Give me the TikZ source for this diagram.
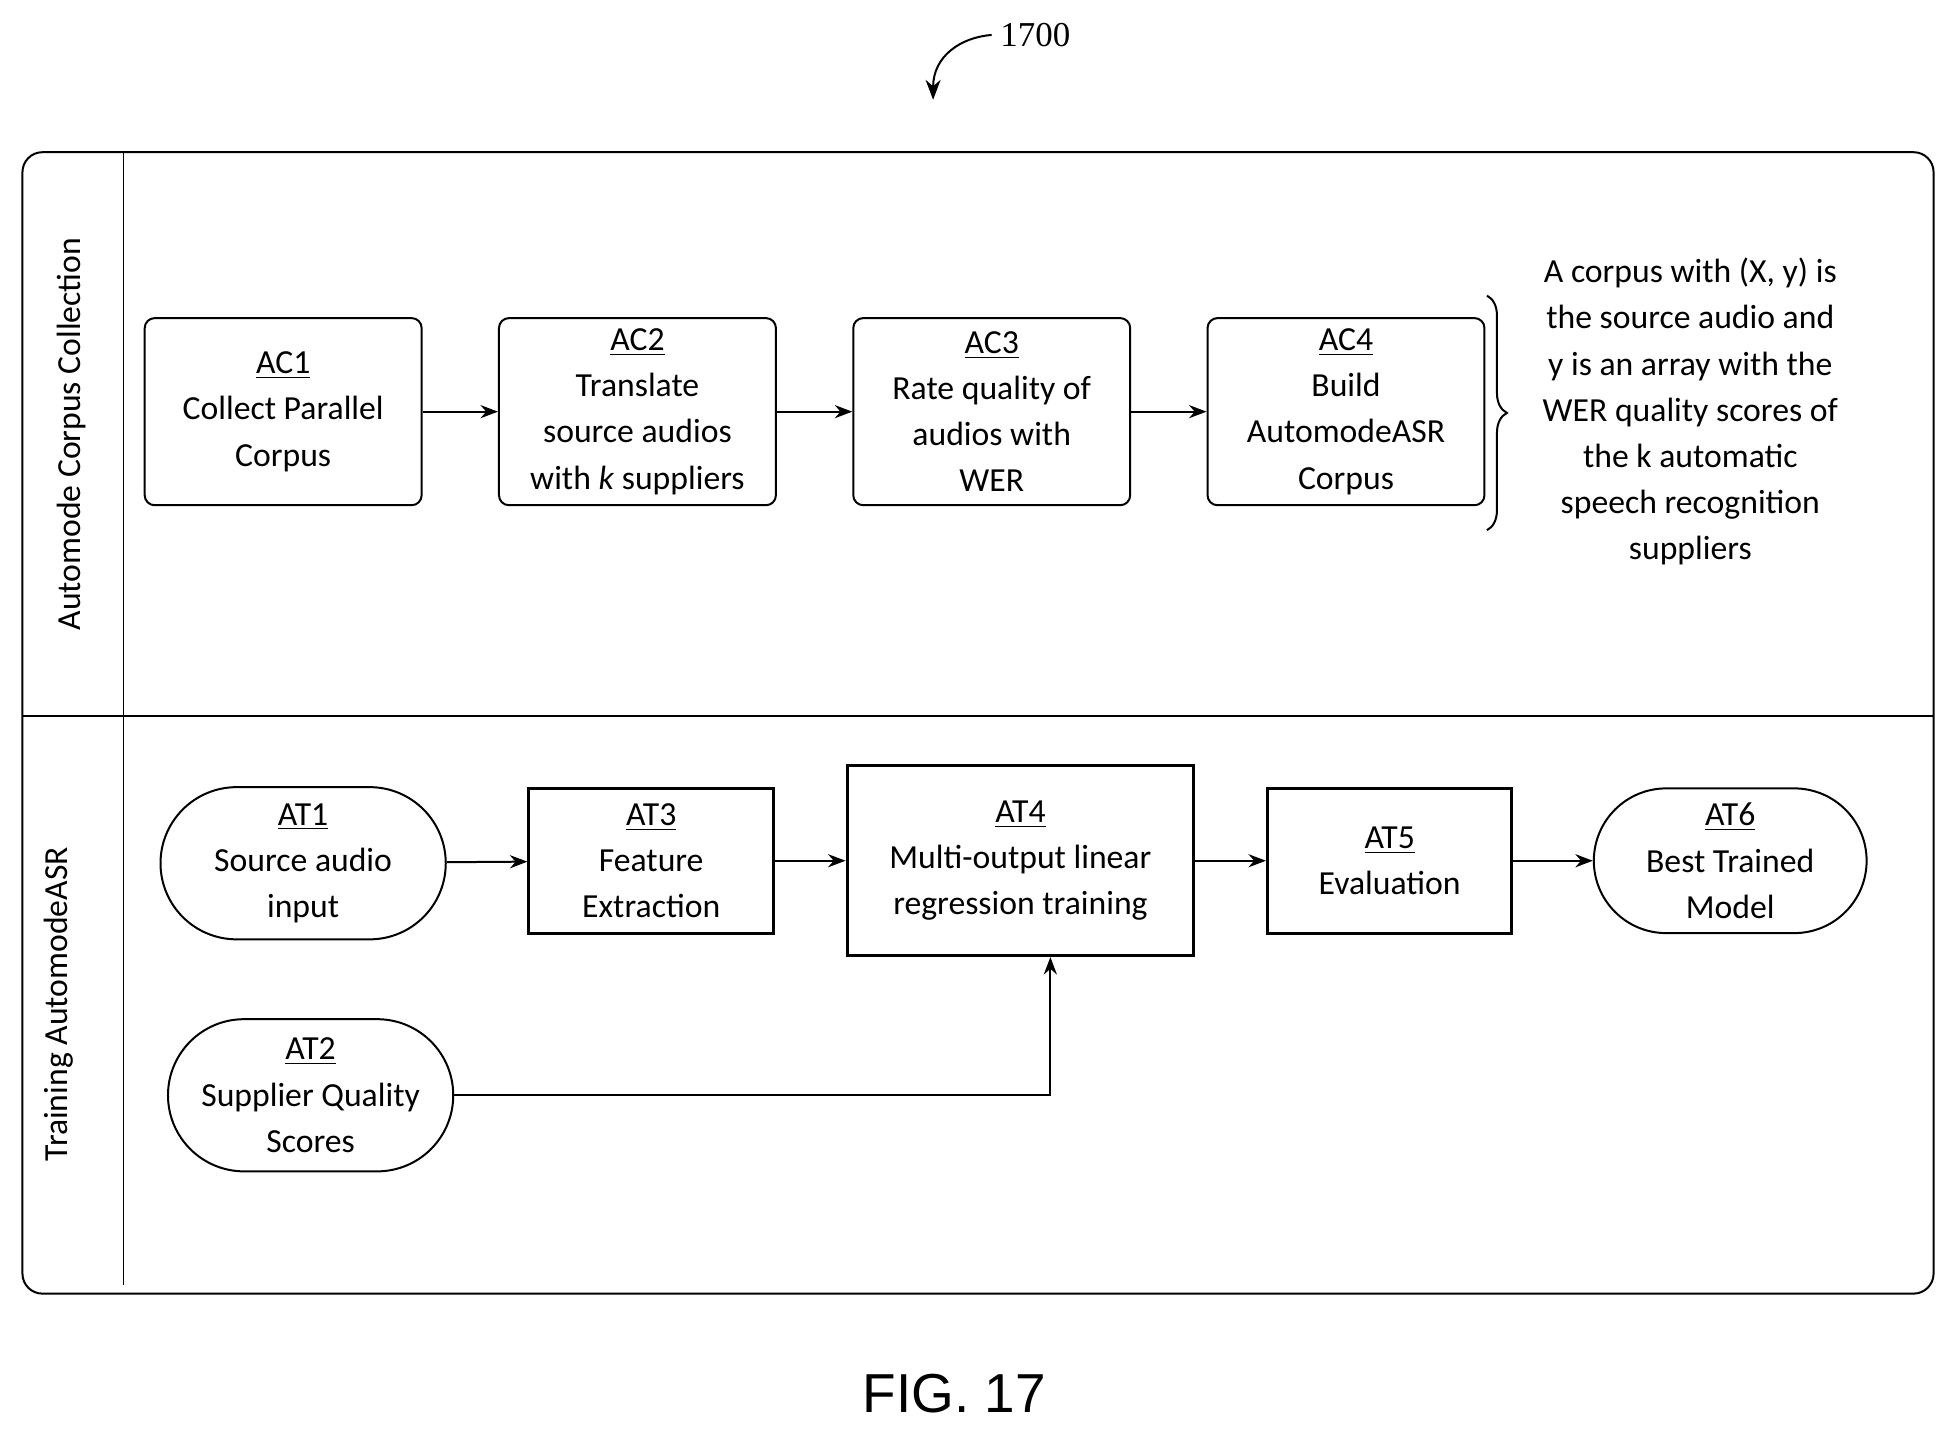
\documentclass[tikz,border=0pt]{standalone}
\usepackage{fontspec}
\setmainfont{Carlito}
\newfontfamily\arialf{Liberation Sans}
\newfontfamily\timesf{Liberation Serif}
\usetikzlibrary{arrows.meta,decorations.pathreplacing,shapes.misc}
\begin{document}
\begin{tikzpicture}[x=0.5pt,y=-0.5pt,
  every node/.style={font=\fontsize{13.5}{18.5}\selectfont},
  box/.style={draw,thick,rounded corners=4pt,align=center},
  sbox/.style={draw,line width=1.2pt,align=center},
  pill/.style={draw,thick,rounded rectangle,align=center},
  arr/.style={-{Stealth[length=7pt]},thick}]
\useasboundingbox (0,0) rectangle (1568,1151);
\draw[thick,rounded corners=8pt] (18,122) rectangle (1550,1037);
\draw[thick] (99,122) -- (99,1030);
\draw[thick] (18,574) -- (1550,574);
\node[rotate=90] (lane1) at (57,348) {Automode Corpus Collection};
\node[rotate=90] (lane2) at (47,805) {Training AutomodeASR};
\node[box,minimum width=111pt,minimum height=75pt] (ac1) at (227,330) {\underline{AC1}\\Collect Parallel\\Corpus};
\node[box,minimum width=111pt,minimum height=75pt] (ac2) at (511,330) {\underline{AC2}\\Translate\\source audios\\with \textit{k} suppliers};
\node[box,minimum width=111pt,minimum height=75pt] (ac3) at (795,330) {\underline{AC3}\\Rate quality of\\audios with\\WER};
\node[box,minimum width=111pt,minimum height=75pt] (ac4) at (1079,330) {\underline{AC4}\\Build\\AutomodeASR\\Corpus};
\draw[arr] (ac1) -- (ac2);
\draw[arr] (ac2) -- (ac3);
\draw[arr] (ac3) -- (ac4);
\coordinate (b1) at (1192,237); \coordinate (b2) at (1192,425);
\draw[thick,decorate,decoration={brace,amplitude=8pt}] (b1) -- (b2);
\node[align=center] (note) at (1355,330) {A corpus with (X, y) is\\the source audio and\\y is an array with the\\WER quality scores of\\the k automatic\\speech recognition\\suppliers};
\node[pill,minimum width=121pt,minimum height=61pt] (at1) at (243,692) {\underline{AT1}\\Source audio\\input};
\node[sbox,minimum width=98pt,minimum height=58pt] (at3) at (522,690) {\underline{AT3}\\Feature\\Extraction};
\node[sbox,minimum width=139pt,minimum height=76pt] (at4) at (818,690) {\underline{AT4}\\Multi-output linear\\regression training};
\node[sbox,minimum width=98pt,minimum height=58pt] (at5) at (1114,690) {\underline{AT5}\\Evaluation};
\node[pill,minimum width=116pt,minimum height=58pt] (at6) at (1387,690) {\underline{AT6}\\Best Trained\\Model};
\node[pill,minimum width=121pt,minimum height=61pt] (at2) at (249,878) {\underline{AT2}\\Supplier Quality\\Scores};
\draw[arr] (at1) -- (at3);
\draw[arr] (at3) -- (at4);
\draw[arr] (at4) -- (at5);
\draw[arr] (at5) -- (at6);
\draw[arr] (at2.east) -| ([xshift=12pt]at4.south);
\node[font=\timesf\fontsize{14}{16}\selectfont] (lbl) at (830,28) {1700};
\coordinate (tip) at (748,80);
\draw[-{Stealth[length=8pt]},thick] (lbl.west) .. controls (770,30) and (748,45) .. (tip);
\node[font=\arialf\fontsize{22}{24}\selectfont] (fig) at (765,1117) {FIG. 17};
\end{tikzpicture}
\end{document}
